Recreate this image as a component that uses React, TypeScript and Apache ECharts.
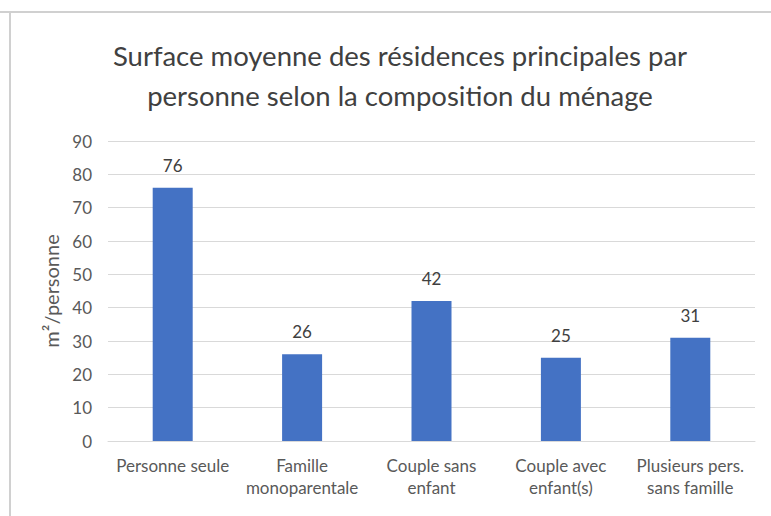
import React, { useEffect, useRef } from "react";
import * as echarts from "echarts";

const categories = [
  "Personne seule",
  "Famille\nmonoparentale",
  "Couple sans\nenfant",
  "Couple avec\nenfant(s)",
  "Plusieurs pers.\nsans famille",
];
const values = [76, 26, 42, 25, 31];
const titleText = "Surface moyenne des résidences principales par\npersonne selon la composition du ménage";
const yAxisName = "m²/personne";

const FONT = "Lato, 'Noto Sans', sans-serif";

export default function App() {
  const ref = useRef<HTMLDivElement>(null);
  useEffect(() => {
    if (!ref.current) return;
    const chart = echarts.init(ref.current, null, { renderer: "svg" });
    chart.setOption({
      animation: false,
      backgroundColor: "#ffffff",
      title: {
        text: titleText,
        left: 395,
        textAlign: "center",
        top: 30,
        textStyle: {
          fontFamily: FONT,
          fontSize: 27.5,
          fontWeight: "normal",
          color: "#404040",
          lineHeight: 40,
        },
      },
      graphic: [
        { type: "line", shape: { x1: 0, y1: 12, x2: 771, y2: 12 }, style: { stroke: "#d0d0d0", lineWidth: 2 } },
        { type: "line", shape: { x1: 10, y1: 12, x2: 10, y2: 516 }, style: { stroke: "#d0d0d0", lineWidth: 2 } },
      ],
      grid: { left: 108, right: 16, top: 141, bottom: 75 },
      xAxis: {
        type: "category",
        data: categories,
        axisTick: { show: false },
        axisLine: { lineStyle: { color: "#d9d9d9", width: 1 } },
        axisLabel: {
          fontFamily: FONT,
          fontSize: 17,
          color: "#595959",
          margin: 13,
          lineHeight: 22,
          interval: 0,
        },
      },
      yAxis: {
        type: "value",
        min: 0,
        max: 90,
        interval: 10,
        name: yAxisName,
        nameLocation: "middle",
        nameGap: 45,
        nameTextStyle: { fontFamily: FONT, fontSize: 20, color: "#595959" },
        axisLabel: { fontFamily: FONT, fontSize: 17, color: "#595959", margin: 16 },
        splitLine: { lineStyle: { color: "#d9d9d9", width: 1 } },
        axisLine: { show: false },
        axisTick: { show: false },
      },
      series: [
        {
          type: "bar",
          data: values,
          barWidth: 40,
          itemStyle: { color: "#4472C4" },
          label: {
            show: true,
            position: "top",
            distance: 14,
            fontFamily: FONT,
            fontSize: 17,
            color: "#404040",
          },
        },
      ],
    });
    return () => chart.dispose();
  }, []);
  return <div ref={ref} style={{ width: 771, height: 516, position: "absolute", left: 0, top: 0 }} />;
}
